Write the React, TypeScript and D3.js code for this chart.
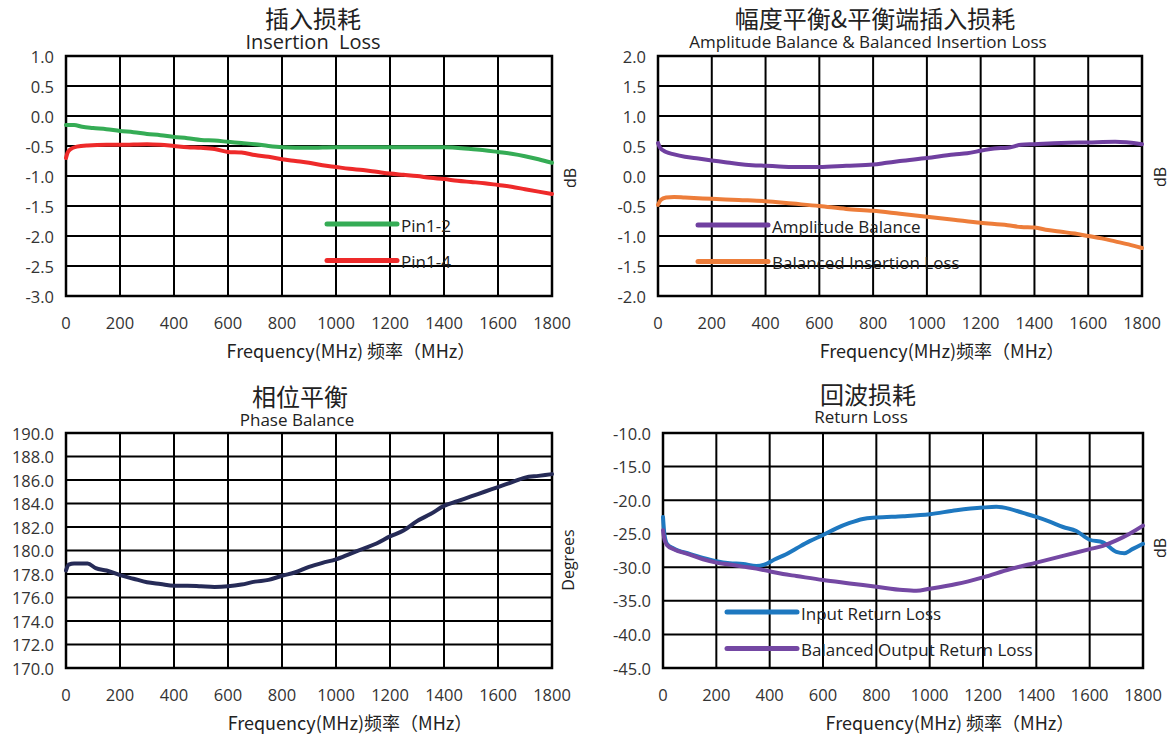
import * as d3 from 'd3';

// frequency axis (MHz)
const freqTicks = [0, 200, 400, 600, 800, 1000, 1200, 1400, 1600, 1800];

// Insertion loss (dB)
const pin12 = [
  [0, -0.15], [30, -0.15], [60, -0.18], [100, -0.2], [150, -0.22], [200, -0.25], [250, -0.27],
  [300, -0.3], [350, -0.32], [400, -0.35], [450, -0.37], [500, -0.4], [550, -0.41], [600, -0.43],
  [650, -0.45], [700, -0.47], [750, -0.5], [800, -0.52], [900, -0.53], [1000, -0.52],
  [1100, -0.52], [1200, -0.52], [1300, -0.52], [1400, -0.52], [1500, -0.55], [1550, -0.57],
  [1600, -0.6], [1650, -0.63], [1700, -0.67], [1750, -0.72], [1800, -0.78],
];
const pin14 = [
  [0, -0.7], [5, -0.62], [15, -0.56], [40, -0.51], [80, -0.49], [150, -0.48], [200, -0.48],
  [300, -0.47], [350, -0.48], [400, -0.5], [450, -0.52], [500, -0.53], [550, -0.55],
  [600, -0.6], [650, -0.61], [700, -0.65], [750, -0.68], [800, -0.72], [850, -0.75],
  [900, -0.78], [950, -0.82], [1000, -0.85], [1050, -0.88], [1100, -0.9], [1150, -0.93],
  [1200, -0.96], [1250, -0.98], [1300, -1.0], [1350, -1.03], [1400, -1.05], [1450, -1.08],
  [1500, -1.1], [1550, -1.12], [1600, -1.15], [1650, -1.18], [1700, -1.22], [1750, -1.26],
  [1800, -1.3],
];

// Amplitude balance & balanced insertion loss (dB)
const ampBalance = [
  [0, 0.55], [8, 0.47], [30, 0.4], [60, 0.36], [100, 0.32], [150, 0.29], [200, 0.26],
  [250, 0.23], [300, 0.2], [350, 0.18], [400, 0.17], [450, 0.16], [500, 0.15], [600, 0.15],
  [700, 0.17], [800, 0.19], [850, 0.22], [900, 0.25], [1000, 0.3], [1100, 0.36],
  [1150, 0.38], [1200, 0.42], [1250, 0.46], [1300, 0.47], [1350, 0.52], [1400, 0.53],
  [1500, 0.55], [1600, 0.56], [1700, 0.57], [1800, 0.53],
];
const balancedIL = [
  [0, -0.48], [10, -0.4], [30, -0.36], [60, -0.35], [100, -0.36], [200, -0.38],
  [300, -0.4], [400, -0.42], [500, -0.46], [600, -0.5], [700, -0.55], [800, -0.58],
  [900, -0.63], [1000, -0.68], [1100, -0.73], [1200, -0.78], [1300, -0.82], [1350, -0.85],
  [1400, -0.86], [1450, -0.9], [1500, -0.93], [1550, -0.96], [1600, -1.0], [1650, -1.04],
  [1700, -1.09], [1750, -1.14], [1800, -1.2],
];

// Phase balance (degrees)
const phaseBalance = [
  [0, 178.3], [10, 178.8], [30, 178.9], [80, 178.9], [110, 178.5], [150, 178.3],
  [200, 177.9], [250, 177.6], [300, 177.3], [350, 177.15], [400, 177.0], [450, 177.0],
  [500, 176.95], [550, 176.9], [600, 176.95], [650, 177.1], [700, 177.35], [750, 177.5],
  [800, 177.85], [850, 178.15], [900, 178.6], [950, 178.95], [1000, 179.25], [1050, 179.7],
  [1100, 180.15], [1150, 180.6], [1200, 181.2], [1250, 181.7], [1300, 182.5], [1350, 183.1],
  [1400, 183.8], [1450, 184.2], [1500, 184.6], [1550, 185.0], [1600, 185.4], [1650, 185.8],
  [1700, 186.2], [1750, 186.35], [1800, 186.5],
];

// Return loss (dB)
const inputRL = [
  [0, -22.5], [5, -25], [15, -26.5], [40, -27.2], [100, -28], [150, -28.6], [200, -29.1],
  [250, -29.4], [300, -29.5], [350, -29.8], [380, -29.6], [420, -28.8], [460, -28.1],
  [500, -27.2], [550, -26.1], [600, -25.2], [650, -24.2], [700, -23.4], [750, -22.8],
  [800, -22.6], [900, -22.4], [1000, -22.1], [1100, -21.5], [1200, -21.1], [1250, -21.0],
  [1300, -21.3], [1350, -21.9], [1400, -22.5], [1450, -23.2], [1500, -24.0], [1550, -24.6],
  [1600, -25.9], [1650, -26.3], [1700, -27.7], [1730, -27.9], [1760, -27.3], [1800, -26.5],
];
const outputRL = [
  [0, -24.5], [5, -25.8], [15, -26.7], [40, -27.3], [100, -28.1], [150, -28.8],
  [200, -29.3], [250, -29.6], [300, -29.9], [350, -30.2], [400, -30.6], [450, -31.0],
  [500, -31.3], [600, -31.9], [700, -32.4], [800, -32.9], [900, -33.4], [950, -33.5],
  [1000, -33.2], [1100, -32.5], [1200, -31.5], [1300, -30.3], [1400, -29.3], [1500, -28.3],
  [1600, -27.3], [1650, -26.8], [1700, -26.0], [1750, -25.0], [1800, -23.8],
];

const FONT = '"Open Sans", "Noto Sans", "Noto Sans CJK SC", sans-serif';
const CJK = '"Noto Sans CJK SC", "Open Sans", sans-serif';

type Series = { data: number[][]; color: string; label: string };

type PanelProps = {
  left: number;
  right: number;
  top: number;
  bottom: number;
  yMin: number;
  yMax: number;
  yStep: number;
  title: string;
  titleX: number;
  titleY: number;
  subtitle: string;
  subX: number;
  subY: number;
  subSize: number;
  unit: string;
  unitX: number;
  unitY: number;
  axisTitle: string;
  axisTitleX: number;
  series: Series[];
  legendX?: number;
  legendY?: number;
};

function Panel(p: PanelProps) {
  const x = d3.scaleLinear().domain([0, 1800]).range([p.left, p.right]);
  const y = d3.scaleLinear().domain([p.yMin, p.yMax]).range([p.bottom, p.top]);
  const yTicks = d3.range(p.yMin, p.yMax + p.yStep / 2, p.yStep);
  const line = d3
    .line<number[]>()
    .x((d) => x(d[0]))
    .y((d) => y(d[1]))
    .curve(d3.curveMonotoneX);

  return (
    <g>
      <text x={p.titleX} y={p.titleY} textAnchor="middle" dominantBaseline="central"
        fontFamily={CJK} fontSize={24} fill="#222">{p.title}</text>
      <text x={p.subX} y={p.subY} textAnchor="middle" dominantBaseline="central"
        fontFamily={FONT} fontSize={p.subSize} fill="#222" style={{ whiteSpace: 'pre' }}>{p.subtitle}</text>

      {yTicks.map((t) => (
        <g key={'y' + t}>
          <line x1={p.left} x2={p.right} y1={y(t)} y2={y(t)} stroke="#000" strokeWidth={2} />
          <text x={p.left - 12} y={y(t)} textAnchor="end" dominantBaseline="central"
            fontFamily={FONT} fontSize={16.5} fill="#333">{t.toFixed(1)}</text>
        </g>
      ))}
      {freqTicks.map((t) => (
        <g key={'x' + t}>
          <line x1={x(t)} x2={x(t)} y1={p.top} y2={p.bottom} stroke="#000" strokeWidth={2} />
          <text x={x(t)} y={p.bottom + 26} textAnchor="middle" dominantBaseline="central"
            fontFamily={FONT} fontSize={16.5} fill="#333">{t}</text>
        </g>
      ))}
      <rect x={p.left} y={p.top} width={p.right - p.left} height={p.bottom - p.top}
        fill="none" stroke="#000" strokeWidth={2.5} />

      {p.series.map((s) => (
        <path key={s.label} d={line(s.data) || ''} fill="none" stroke={s.color}
          strokeWidth={4} strokeLinejoin="round" strokeLinecap="round" />
      ))}

      {p.legendX !== undefined &&
        p.series.map((s, i) => (
          <g key={'lg' + s.label} transform={`translate(${p.legendX}, ${(p.legendY || 0) + i * 36.5})`}>
            <line x1={0} x2={70} y1={0} y2={0} stroke={s.color} strokeWidth={5} strokeLinecap="round" />
            <text x={74} y={1} dominantBaseline="central" fontFamily={FONT} fontSize={17} fill="#222">
              {s.label}
            </text>
          </g>
        ))}

      <text transform={`translate(${p.unitX}, ${p.unitY}) rotate(-90)`} textAnchor="middle"
        dominantBaseline="central" fontFamily={FONT} fontSize={16} fill="#222">{p.unit}</text>
      <text x={p.axisTitleX} y={p.bottom + 54} textAnchor="middle" dominantBaseline="central"
        fontFamily={CJK} fontSize={18} fill="#222">{p.axisTitle}</text>
    </g>
  );
}

export default function App() {
  return (
    <div style={{ position: 'fixed', left: 0, top: 0, background: '#fff' }}>
      <svg width={1174} height={738} style={{ display: 'block' }}>
        <rect width={1174} height={738} fill="#fff" />
        <Panel left={66} right={552} top={56} bottom={296} yMin={-3} yMax={1} yStep={0.5}
          title="插入损耗" titleX={313} titleY={17} subtitle="Insertion  Loss" subX={313} subY={41} subSize={20}
          unit="dB" unitX={570} unitY={178}
          axisTitle="Frequency(MHz) 频率（MHz）" axisTitleX={351}
          series={[
            { data: pin12, color: '#35AC55', label: 'Pin1-2' },
            { data: pin14, color: '#EE2A2A', label: 'Pin1-4' },
          ]}
          legendX={327} legendY={224} />
        <Panel left={658} right={1142} top={56} bottom={296} yMin={-2} yMax={2} yStep={0.5}
          title="幅度平衡&平衡端插入损耗" titleX={875} titleY={17}
          subtitle="Amplitude Balance & Balanced Insertion Loss" subX={868} subY={41} subSize={17}
          unit="dB" unitX={1160} unitY={177}
          axisTitle="Frequency(MHz)频率（MHz）" axisTitleX={942}
          series={[
            { data: ampBalance, color: '#7040A0', label: 'Amplitude Balance' },
            { data: balancedIL, color: '#ED7D3A', label: 'Balanced Insertion Loss' },
          ]}
          legendX={698} legendY={225} />
        <Panel left={66} right={552} top={433} bottom={668} yMin={170} yMax={190} yStep={2}
          title="相位平衡" titleX={300} titleY={395} subtitle="Phase Balance" subX={297} subY={419} subSize={17}
          unit="Degrees" unitX={568} unitY={560}
          axisTitle="Frequency(MHz)频率（MHz）" axisTitleX={350}
          series={[{ data: phaseBalance, color: '#262B57', label: 'Phase' }]} />
        <Panel left={663} right={1143} top={433} bottom={668} yMin={-45} yMax={-10} yStep={5}
          title="回波损耗" titleX={868} titleY={393} subtitle="Return Loss" subX={861} subY={416} subSize={17}
          unit="dB" unitX={1160} unitY={548}
          axisTitle="Frequency(MHz) 频率（MHz）" axisTitleX={950}
          series={[
            { data: inputRL, color: '#1E78C0', label: 'Input Return Loss' },
            { data: outputRL, color: '#7448A3', label: 'Balanced Output Return Loss' },
          ]}
          legendX={727} legendY={612} />
      </svg>
    </div>
  );
}
